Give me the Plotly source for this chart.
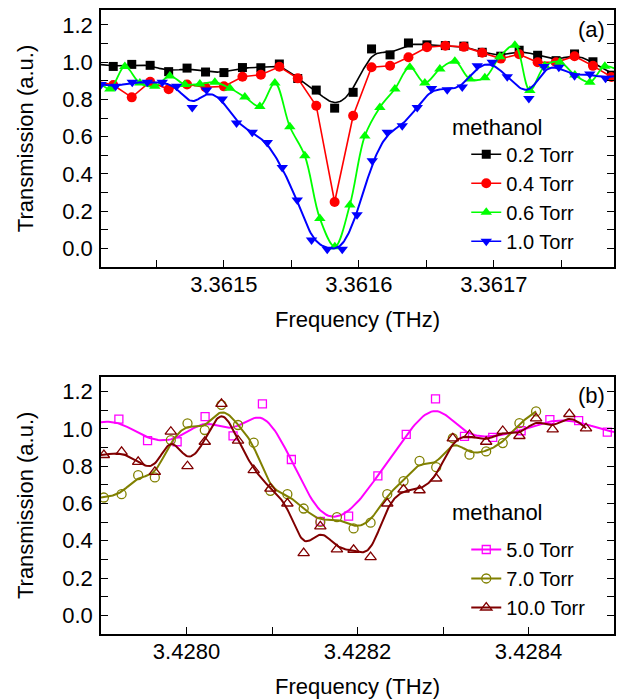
import plotly.graph_objects as go

# ---------------- panel (a) data ----------------
freq_a_bk = [3.36140437, 3.36141807, 3.36143178, 3.36144541, 3.36145911, 3.36147274,
             3.36148644, 3.36150007, 3.36151378, 3.36152741, 3.36154111, 3.36155474,
             3.36156844, 3.36158207, 3.36159578, 3.36160941, 3.36162311, 3.36163674,
             3.36165044, 3.36166407, 3.36167778, 3.36169141, 3.36170511, 3.36171874,
             3.36173244, 3.36174607, 3.36175978, 3.36177341, 3.36178711, 3.36180074]
trans_02 = [0.99, 0.977, 0.988, 0.983, 0.949, 0.968, 0.947, 0.944, 0.971, 0.970,
            0.990, 0.912, 0.850, 0.753, 0.838, 1.071, 1.039, 1.103, 1.093, 1.089,
            1.086, 1.053, 1.032, 1.064, 1.037, 1.008, 1.044, 1.002, 0.930, 0.92]
trans_04 = [0.90, 0.877, 0.811, 0.895, 0.854, 0.880, 0.865, 0.870, 0.922, 0.932,
            0.975, 0.913, 0.766, 0.249, 0.712, 0.973, 0.981, 1.026, 1.080, 1.088,
            1.082, 1.050, 1.019, 1.042, 0.999, 0.999, 1.032, 0.980, 0.920, 0.91]
freq_a_06 = [3.36140444, 3.36141556, 3.36142667, 3.36143778, 3.36144889, 3.36146000,
             3.36147111, 3.36148222, 3.36149333, 3.36150444, 3.36151556, 3.36152667,
             3.36153778, 3.36154889, 3.36156000, 3.36157111, 3.36158222, 3.36159333,
             3.36160444, 3.36161556, 3.36162667, 3.36163778, 3.36164889, 3.36166000,
             3.36167111, 3.36168222, 3.36169333, 3.36170444, 3.36171556, 3.36172667,
             3.36173778, 3.36174889, 3.36176000, 3.36177111, 3.36178222, 3.36179333]
trans_06 = [0.92, 0.856, 0.977, 0.888, 0.870, 0.925, 0.880, 0.883, 0.892, 0.860,
            0.813, 0.762, 0.888, 0.653, 0.497, 0.161, 0.009, 0.233, 0.604, 0.757,
            0.856, 0.973, 0.888, 0.963, 1.005, 0.910, 0.916, 1.029, 1.091, 0.848,
            0.98, 1.0, 0.931, 0.892, 0.978, 0.95]
freq_a_10 = [3.36140904, 3.36141978, 3.36143215, 3.36144326, 3.36145437, 3.36146496,
             3.36147659, 3.36148719, 3.36149881, 3.36150941, 3.36152104, 3.36153215,
             3.36154326, 3.36155437, 3.36156496, 3.36157659, 3.36158770, 3.36159867,
             3.36160993, 3.36162104, 3.36163215, 3.36164326, 3.36165385, 3.36166548,
             3.36167659, 3.36168770, 3.36169881, 3.36170993, 3.36172593, 3.36173704,
             3.36174815, 3.36175978, 3.36177111, 3.36178274, 3.36179385]
trans_10 = [0.88, 0.870, 0.892, 0.892, 0.892, 0.870, 0.757, 0.850, 0.802, 0.673,
            0.623, 0.569, 0.434, 0.260, 0.045, -0.005, -0.005, 0.180, 0.470, 0.623,
            0.658, 0.757, 0.858, 0.852, 0.866, 0.980, 0.999, 0.922, 0.805, 0.976,
            0.973, 0.927, 0.937, 0.913, 0.93]

# ---------------- panel (b) data ----------------
freq_b_50 = [3.42788703, 3.42792091, 3.42795444, 3.42798902, 3.42802173, 3.42805444,
             3.42808879, 3.42812266, 3.42815654, 3.42818960, 3.42822383, 3.42825701,
             3.42829124, 3.42832512, 3.42835818, 3.42839136, 3.42842500, 3.42845864,
             3.42849217, 3.42852605]
trans_50 = [1.03, 1.052, 0.937, 0.931, 1.066, 0.963, 1.134, 0.836, 0.504, 0.532,
            0.748, 0.971, 1.161, 0.960, 0.955, 0.99, 1.050, 1.044, 0.983, 0.97]
freq_b_70 = [3.42788388, 3.42790339, 3.42792407, 3.42794346, 3.42796297, 3.42798166,
             3.42800117, 3.42802138, 3.42804089, 3.42806028, 3.42807862, 3.42809813,
             3.42811799, 3.42813703, 3.42815654, 3.42817593, 3.42819544, 3.42821530,
             3.42823481, 3.42825386, 3.42827255, 3.42829206, 3.42831145, 3.42833096,
             3.42835047, 3.42836986, 3.42838937, 3.42840888]
trans_70 = [0.62, 0.632, 0.650, 0.752, 0.740, 0.940, 1.030, 0.994, 1.129, 1.021,
            0.926, 0.668, 0.650, 0.573, 0.501, 0.527, 0.466, 0.497, 0.650, 0.72,
            0.829, 0.795, 0.95, 0.862, 0.879, 0.924, 1.031, 1.094]
freq_b_100 = [3.42788388, 3.42790339, 3.42792407, 3.42794346, 3.42796297, 3.42798166,
              3.42800117, 3.42802138, 3.42804089, 3.42806028, 3.42807862, 3.42809813,
              3.42811799, 3.42813703, 3.42815654, 3.42817593, 3.42819544, 3.42821530,
              3.42823481, 3.42825386, 3.42827255, 3.42829206, 3.42831145, 3.42833096,
              3.42835047, 3.42836986, 3.42838937, 3.42840888, 3.42842827, 3.42844778,
              3.42846729]
trans_100 = [0.85, 0.860, 0.877, 0.823, 0.770, 0.985, 0.800, 0.931, 1.134, 0.937,
             0.779, 0.680, 0.600, 0.334, 0.477, 0.354, 0.352, 0.312, 0.600, 0.675,
             0.671, 0.734, 0.949, 0.967, 0.931, 0.989, 0.962, 1.057, 0.998, 1.080,
             1.003]

labels_a = ["0.2 Torr", "0.4 Torr", "0.6 Torr", "1.0 Torr"]
labels_b = ["5.0 Torr", "7.0 Torr", "10.0 Torr"]
legend_title = "methanol"


def bspline(xs, ys, n=14):
    """Uniform cubic B-spline using the data points as control points (clamped ends)."""
    px = [xs[0]] * 2 + list(xs) + [xs[-1]] * 2
    py = [ys[0]] * 2 + list(ys) + [ys[-1]] * 2
    cx, cy = [], []
    nseg = len(px) - 3
    for i in range(nseg):
        steps = n + 1 if i == nseg - 1 else n
        for k in range(steps):
            t = k / n
            b0 = (1 - t) ** 3 / 6
            b1 = (3 * t ** 3 - 6 * t ** 2 + 4) / 6
            b2 = (-3 * t ** 3 + 3 * t ** 2 + 3 * t + 1) / 6
            b3 = t ** 3 / 6
            cx.append(b0 * px[i] + b1 * px[i + 1] + b2 * px[i + 2] + b3 * px[i + 3])
            cy.append(b0 * py[i] + b1 * py[i + 1] + b2 * py[i + 2] + b3 * py[i + 3])
    return cx, cy


FONT = "Liberation Sans, Arial, sans-serif"
fig = go.Figure()

# ---- panel (a) ----
bx, by = bspline(freq_a_bk, trans_02)
fig.add_trace(go.Scatter(x=bx, y=by, mode="lines", line=dict(color="black", width=1.6),
                         showlegend=False, hoverinfo="skip", xaxis="x", yaxis="y"))
fig.add_trace(go.Scatter(x=freq_a_bk, y=trans_02, mode="markers",
                         marker=dict(symbol="square", size=9, color="black"),
                         showlegend=False, xaxis="x", yaxis="y"))
fig.add_trace(go.Scatter(x=freq_a_bk, y=trans_04, mode="lines+markers",
                         line=dict(color="#FF0000", width=1.6),
                         marker=dict(symbol="circle", size=10, color="#FF0000"),
                         showlegend=False, xaxis="x", yaxis="y"))
fig.add_trace(go.Scatter(x=freq_a_06, y=trans_06, mode="lines+markers",
                         line=dict(color="#00FF00", width=1.8, shape="spline", smoothing=1.0),
                         marker=dict(symbol="triangle-up", size=10, color="#00FF00"),
                         showlegend=False, xaxis="x", yaxis="y"))
bx, by = bspline(freq_a_10, trans_10)
fig.add_trace(go.Scatter(x=bx, y=by, mode="lines", line=dict(color="#0000FF", width=2),
                         showlegend=False, hoverinfo="skip", xaxis="x", yaxis="y"))
fig.add_trace(go.Scatter(x=freq_a_10, y=trans_10, mode="markers",
                         marker=dict(symbol="triangle-down", size=10, color="#0000FF"),
                         showlegend=False, xaxis="x", yaxis="y"))

# ---- panel (b) ----
bx, by = bspline(freq_b_50, trans_50)
fig.add_trace(go.Scatter(x=bx, y=by, mode="lines", line=dict(color="#FF00FF", width=2),
                         showlegend=False, hoverinfo="skip", xaxis="x2", yaxis="y2"))
fig.add_trace(go.Scatter(x=freq_b_50, y=trans_50, mode="markers",
                         marker=dict(symbol="square-open", size=8, color="#FF00FF",
                                     line=dict(width=1.3, color="#FF00FF")),
                         showlegend=False, xaxis="x2", yaxis="y2"))
bx, by = bspline(freq_b_70, trans_70)
fig.add_trace(go.Scatter(x=bx, y=by, mode="lines", line=dict(color="#808000", width=2),
                         showlegend=False, hoverinfo="skip", xaxis="x2", yaxis="y2"))
fig.add_trace(go.Scatter(x=freq_b_70, y=trans_70, mode="markers",
                         marker=dict(symbol="circle-open", size=9, color="#808000",
                                     line=dict(width=1.3, color="#808000")),
                         showlegend=False, xaxis="x2", yaxis="y2"))
bx, by = bspline(freq_b_100, trans_100)
fig.add_trace(go.Scatter(x=bx, y=by, mode="lines", line=dict(color="#800000", width=2),
                         showlegend=False, hoverinfo="skip", xaxis="x2", yaxis="y2"))
fig.add_trace(go.Scatter(x=freq_b_100, y=trans_100, mode="markers",
                         marker=dict(symbol="triangle-up-open", size=10, color="#800000",
                                     line=dict(width=1.3, color="#800000")),
                         showlegend=False, xaxis="x2", yaxis="y2"))

# ---- legend entries ----
leg_a = [("black", "square", 9), ("#FF0000", "circle", 10),
         ("#00FF00", "triangle-up", 10), ("#0000FF", "triangle-down", 10)]
for (c, s, sz), name in zip(leg_a, labels_a):
    fig.add_trace(go.Scatter(x=[None], y=[None], mode="lines+markers", name=name,
                             line=dict(color=c, width=1.6), marker=dict(symbol=s, size=sz, color=c),
                             legend="legend", legendgroup=name, xaxis="x", yaxis="y"))
leg_b = [("#FF00FF", "square-open", 8), ("#808000", "circle-open", 9),
         ("#800000", "triangle-up-open", 10)]
for (c, s, sz), name in zip(leg_b, labels_b):
    fig.add_trace(go.Scatter(x=[None], y=[None], mode="lines+markers", name=name,
                             line=dict(color=c, width=2),
                             marker=dict(symbol=s, size=sz, color=c, line=dict(width=1.3, color=c)),
                             legend="legend2", legendgroup=name, xaxis="x2", yaxis="y2"))

axis_common = dict(showline=True, linecolor="black", linewidth=1.5, ticks="inside",
                   ticklen=7, tickwidth=1.2, tickcolor="black", showgrid=False, zeroline=False,
                   tickfont=dict(family=FONT, size=22, color="black"), automargin=False)

xa = dict(axis_common, mirror=True, ticklabelstandoff=-3,
          title=dict(text="Frequency (THz)", font=dict(family=FONT, size=22, color="black"), standoff=15))
ya = dict(axis_common, mirror="ticks", range=[-0.1, 1.28], dtick=0.2, tick0=0, tickformat=".1f",
          ticklabelstandoff=2,
          minor=dict(dtick=0.1, ticks="inside", ticklen=7, tickwidth=1.2, tickcolor="black"),
          title=dict(text="Transmission (a.u.)", font=dict(family=FONT, size=22, color="black"), standoff=23))

leg_common = dict(xanchor="left", yanchor="top", bgcolor="rgba(0,0,0,0)",
                  font=dict(family=FONT, size=20, color="black"), itemwidth=30,
                  tracegroupgap=0, borderwidth=0)

fig.update_layout(
    width=620, height=700,
    margin=dict(l=101, r=6, t=10, b=66),
    plot_bgcolor="white", paper_bgcolor="white",
    font=dict(family=FONT, size=22, color="black"),
    xaxis=dict(xa, anchor="y", domain=[0, 1], range=[3.361409, 3.361789], dtick=0.0001,
               tick0=3.3615, tickformat=".4f",
               minor=dict(dtick=0.00005, ticks="inside", ticklen=7, tickwidth=1.2, tickcolor="black")),
    yaxis=dict(ya, anchor="x", domain=[0.58814, 1]),
    xaxis2=dict(xa, anchor="y2", domain=[0, 1], range=[3.4279, 3.4285], dtick=0.0002,
                tick0=3.4280, tickformat=".4f",
                minor=dict(dtick=0.0001, ticks="inside", ticklen=7, tickwidth=1.2, tickcolor="black")),
    yaxis2=dict(ya, anchor="x2", domain=[0, 0.41234]),
    legend=dict(leg_common, x=0.712, y=0.800),
    legend2=dict(leg_common, x=0.712, y=0.1667),
    annotations=[
        dict(text=legend_title, xref="paper", yref="paper", x=0.681, y=0.8125, xanchor="left",
             yanchor="middle", showarrow=False, font=dict(family=FONT, size=22, color="black")),
        dict(text=legend_title, xref="paper", yref="paper", x=0.681, y=0.1955, xanchor="left",
             yanchor="middle", showarrow=False, font=dict(family=FONT, size=22, color="black")),
        dict(text="(a)", xref="paper", yref="paper", x=0.9864, y=0.968, xanchor="right",
             yanchor="middle", showarrow=False, font=dict(family=FONT, size=22, color="black")),
        dict(text="(b)", xref="paper", yref="paper", x=0.9864, y=0.383, xanchor="right",
             yanchor="middle", showarrow=False, font=dict(family=FONT, size=22, color="black")),
    ],
)

fig.write_html("out.html")
